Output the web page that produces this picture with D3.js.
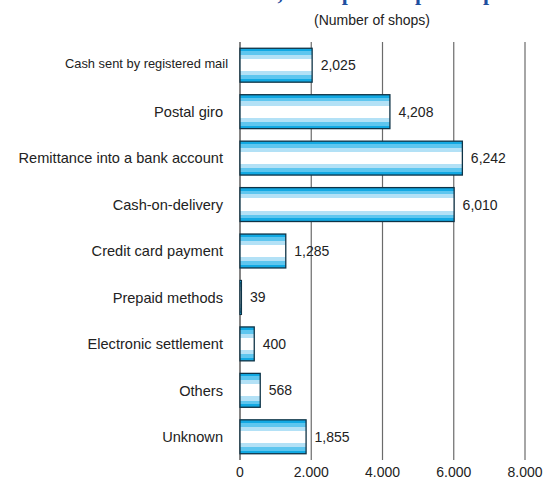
<!DOCTYPE html>
<html>
<head>
<meta charset="utf-8">
<script src="https://cdn.jsdelivr.net/npm/d3@7"></script>
<style>
  body { margin: 0; background: #fff; }
  svg { display: block; font-family: "Liberation Sans", Arial, sans-serif; }
</style>
</head>
<body>
<figure id="bar" style="margin:0"></figure>
<script>
const categories = [
  "Cash sent by registered mail",
  "Postal giro",
  "Remittance into a bank account",
  "Cash-on-delivery",
  "Credit card payment",
  "Prepaid methods",
  "Electronic settlement",
  "Others",
  "Unknown"
];
const shops = [2025, 4208, 6242, 6010, 1285, 39, 400, 568, 1855];
const xTicks = [0, 2000, 4000, 6000, 8000];
const xTickLabels = ["0", "2.000", "4.000", "6.000", "8.000"];

const width = 545;
const height = 478;

const svg = d3.select("figure#bar")
  .append("svg")
  .attr("width", width)
  .attr("height", height);

// striped fill of the bars
const grad = svg.append("defs").append("linearGradient")
  .attr("id", "stripes")
  .attr("x1", 0).attr("y1", 0).attr("x2", 0).attr("y2", 1);
const bands = [
  [0, 0.09, "#12a9e3"],
  [0.09, 0.2, "#5ec6ef"],
  [0.2, 0.32, "#b3e1f6"],
  [0.32, 0.68, "#ffffff"],
  [0.68, 0.8, "#b3e1f6"],
  [0.8, 0.91, "#5ec6ef"],
  [0.91, 1, "#12a9e3"]
];
bands.forEach(b => {
  grad.append("stop").attr("offset", b[0]).attr("stop-color", b[2]);
  grad.append("stop").attr("offset", b[1]).attr("stop-color", b[2]);
});

const x = d3.scaleLinear().domain([0, 8000]).range([240, 525]);
const y = d3.scaleBand().domain(categories).range([42, 460])
  .paddingInner(0.27).paddingOuter(0.135);

// title (cut off at the top of the picture, only descenders show)
const titleParts = [
  ["Settlement methods,", 283, "end"],
  ["shops", 310, "start"],
  ["per", 415, "start"],
  ["purchase", 483, "start"]
];
svg.selectAll(".title")
  .data(titleParts)
  .enter()
  .append("text")
  .attr("x", d => d[1])
  .attr("y", -0.5)
  .attr("text-anchor", d => d[2])
  .style("font-family", "'Liberation Serif', 'DejaVu Serif', serif")
  .style("font-weight", "bold")
  .style("font-size", "22px")
  .style("fill", "#1f4f9f")
  .text(d => d[0]);

svg.append("text")
  .attr("x", 372)
  .attr("y", 25)
  .attr("text-anchor", "middle")
  .style("font-size", "14px")
  .style("fill", "#222")
  .text("(Number of shops)");

// grid lines
svg.selectAll(".grid")
  .data(xTicks.slice(1))
  .enter()
  .append("line")
  .attr("x1", d => x(d)).attr("x2", d => x(d))
  .attr("y1", 42).attr("y2", 460)
  .attr("stroke", "#6b6b6b")
  .attr("stroke-width", 1.2);

svg.append("line")
  .attr("x1", x(0)).attr("x2", x(0))
  .attr("y1", 42).attr("y2", 460)
  .attr("stroke", "#333")
  .attr("stroke-width", 1.2);

// bars
svg.selectAll(".bar")
  .data(shops)
  .enter()
  .append("rect")
  .attr("x", x(0))
  .attr("y", (d, i) => y(categories[i]))
  .attr("width", d => x(d) - x(0))
  .attr("height", y.bandwidth())
  .attr("fill", "url(#stripes)")
  .attr("stroke", "#0f3346")
  .attr("stroke-width", 1.3);

// value labels
svg.selectAll(".value")
  .data(shops)
  .enter()
  .append("text")
  .attr("x", d => x(d) + 8.5)
  .attr("y", (d, i) => y(categories[i]) + y.bandwidth() / 2)
  .attr("dy", "0.36em")
  .style("font-size", "14px")
  .style("fill", "#222")
  .text(d => d3.format(",")(d));

// category labels
svg.selectAll(".cat")
  .data(categories)
  .enter()
  .append("text")
  .attr("x", (d, i) => i === 0 ? 228 : 223)
  .attr("y", d => y(d) + y.bandwidth() / 2 + (d === categories[0] ? -2 : 0))
  .attr("dy", "0.36em")
  .attr("text-anchor", "end")
  .attr("textLength", (d, i) => i === 0 ? 163 : null)
  .attr("lengthAdjust", "spacingAndGlyphs")
  .style("font-size", (d, i) => i === 0 ? "13px" : "14.6px")
  .style("fill", "#222")
  .text(d => d);

// x tick labels
svg.selectAll(".tick")
  .data(xTicks)
  .enter()
  .append("text")
  .attr("x", d => x(d))
  .attr("y", 477)
  .attr("text-anchor", "middle")
  .style("font-size", "14px")
  .style("fill", "#222")
  .text((d, i) => xTickLabels[i]);
</script>
</body>
</html>
